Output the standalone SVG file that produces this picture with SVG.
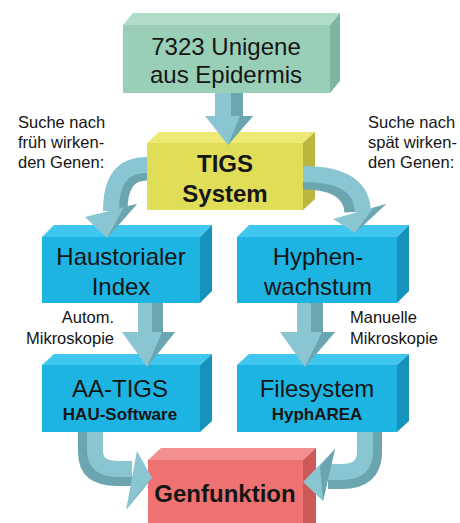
<svg xmlns="http://www.w3.org/2000/svg" width="460" height="523" viewBox="0 0 460 523">
<style>
  text{font-family:"Liberation Sans",Arial,sans-serif;fill:#151515}
  .big{font-size:24px;text-anchor:middle}
  .bold{font-weight:bold}
  .sub{font-size:17px;font-weight:bold;text-anchor:middle}
  .lab{font-size:16.5px}
  .gF{fill:#9acfb7}.gT{fill:#b0dcc8}.gS{fill:#7eb59d}
  .yF{fill:#e0dd58}.yT{fill:#ece975}.yS{fill:#bab63e}
  .bF{fill:#1db4e1}.bT{fill:#3fc7ef}.bS{fill:#1593bc}
  .rF{fill:#ee7272}.rT{fill:#f38f8f}.rS{fill:#cd5959}
  .al{fill:#89c6d2}.ad{fill:#6aa5b0}
  .sl{fill:none;stroke:#89c6d2}.sd{fill:none;stroke:#6aa5b0}
</style>
<rect width="460" height="523" fill="#ffffff"/>

<g id="node-unigene">
  <polygon class="gT" points="123,25 133,13 340,13 330,25"/>
  <polygon class="gS" points="330,25 340,13 340,81 330,93"/>
  <rect class="gF" x="123" y="25" width="207" height="68"/>
  <text class="big" x="226" y="55">7323 Unigene</text>
  <text class="big" x="226" y="83">aus Epidermis</text>
</g>

<g id="node-tigs">
  <polygon class="yT" points="147,143 159,132 315,132 303,143"/>
  <polygon class="yS" points="303,143 315,132 315,199 303,210"/>
  <rect class="yF" x="147" y="143" width="156" height="67"/>
  <text class="big bold" x="225" y="172">TIGS</text>
  <text class="big bold" x="225" y="202">System</text>
</g>

<g id="node-haustorial">
  <polygon class="bT" points="42,237 54,225 212,225 200,237"/>
  <polygon class="bS" points="200,237 212,225 212,291 200,303"/>
  <rect class="bF" x="42" y="237" width="158" height="66"/>
  <text class="big" x="121" y="265">Haustorialer</text>
  <text class="big" x="121" y="295">Index</text>
</g>

<g id="node-hyphen">
  <polygon class="bT" points="237,237 249,225 409,225 397,237"/>
  <polygon class="bS" points="397,237 409,225 409,291 397,303"/>
  <rect class="bF" x="237" y="237" width="160" height="66"/>
  <text class="big" x="318" y="265">Hyphen-</text>
  <text class="big" x="318" y="295">wachstum</text>
</g>

<g id="node-aatigs">
  <polygon class="bT" points="42,365 54,354 212,354 200,365"/>
  <polygon class="bS" points="200,365 212,354 212,421 200,432"/>
  <rect class="bF" x="42" y="365" width="158" height="67"/>
  <text class="big" x="120" y="397">AA-TIGS</text>
  <text class="sub" x="120" y="420">HAU-Software</text>
</g>

<g id="node-filesystem">
  <polygon class="bT" points="237,365 249,354 409,354 397,365"/>
  <polygon class="bS" points="397,365 409,354 409,421 397,432"/>
  <rect class="bF" x="237" y="365" width="160" height="67"/>
  <text class="big" x="317" y="397">Filesystem</text>
  <text class="sub" x="317" y="420">HyphAREA</text>
</g>

<g id="node-genfunktion">
  <polygon class="rT" points="148,460 161,448 316,448 303,460"/>
  <polygon class="rS" points="303,460 316,448 316,523 303,523"/>
  <rect class="rF" x="148" y="460" width="155" height="63"/>
  <text class="big bold" x="225" y="502">Genfunktion</text>
</g>

<g id="labels">
  <text class="lab" x="18" y="128">Suche nach</text>
  <text class="lab" x="18" y="148">früh wirken-</text>
  <text class="lab" x="18" y="168">den Genen:</text>
  <text class="lab" x="368" y="128">Suche nach</text>
  <text class="lab" x="368" y="148">spät wirken-</text>
  <text class="lab" x="368" y="168">den Genen:</text>
  <text class="lab" x="114" y="323" text-anchor="end">Autom.</text>
  <text class="lab" x="114" y="344" text-anchor="end">Mikroskopie</text>
  <text class="lab" x="350" y="323">Manuelle</text>
  <text class="lab" x="350" y="344">Mikroskopie</text>
</g>

<g id="connectors">
  <!-- Unigene -> TIGS -->
  <rect class="al" x="215" y="93" width="16" height="24"/>
  <rect class="ad" x="231" y="93" width="12" height="24"/>
  <polygon class="al" points="205,116 253,116 228,145"/>
  <polygon class="ad" points="240,116 253,116 228,145"/>

  <!-- TIGS -> Haustorialer (curved left) -->
  <path class="sd" stroke-width="21" d="M147,170 C126,170 117,185 117,211"/>
  <path class="sl" stroke-width="16" d="M147,165 C122,165 111,180 111,211"/>
  <polygon class="al" points="85,217 137,204 107,238"/>
  <polygon class="ad" points="124,207 137,204 107,238"/>

  <!-- TIGS -> Hyphen (curved right) -->
  <path class="sd" stroke-width="21" d="M303,179 C336,179 354,190 355,212"/>
  <path class="sl" stroke-width="16" d="M303,174 C342,174 362,186 363,212"/>
  <polygon class="al" points="333,219 386,204 355,233"/>
  <polygon class="ad" points="373,208 386,204 355,233"/>

  <!-- Haustorialer -> AA-TIGS -->
  <rect class="al" x="138" y="303" width="14" height="30"/>
  <rect class="ad" x="152" y="303" width="11" height="30"/>
  <polygon class="al" points="122,332 175,332 147,367"/>
  <polygon class="ad" points="162,332 175,332 147,367"/>

  <!-- Hyphen -> Filesystem -->
  <rect class="al" x="297" y="303" width="14" height="30"/>
  <rect class="ad" x="311" y="303" width="12" height="30"/>
  <polygon class="al" points="280,332 335,332 305,367"/>
  <polygon class="ad" points="322,332 335,332 305,367"/>

  <!-- AA-TIGS -> Genfunktion -->
  <path class="sd" stroke-width="24" d="M90,432 L90,452 C90,469 100,474 118,474 L132,474"/>
  <path class="sl" stroke-width="16" d="M95,432 L95,451 C95,464 104,469 119,469 L132,469"/>
  <polygon class="al" points="137,451 152,478 126,510"/>
  <polygon class="ad" points="141,490 152,478 126,510"/>

  <!-- Filesystem -> Genfunktion -->
  <path class="sd" stroke-width="24" d="M370,432 L370,452 C370,470 360,477 342,477 L328,477"/>
  <path class="sl" stroke-width="16" d="M365,432 L365,451 C365,466 357,472 341,472 L328,472"/>
  <polygon class="al" points="335,449 303,482 323,501"/>
  <polygon class="ad" points="335,449 320,466 323,501"/>
</g>
</svg>
